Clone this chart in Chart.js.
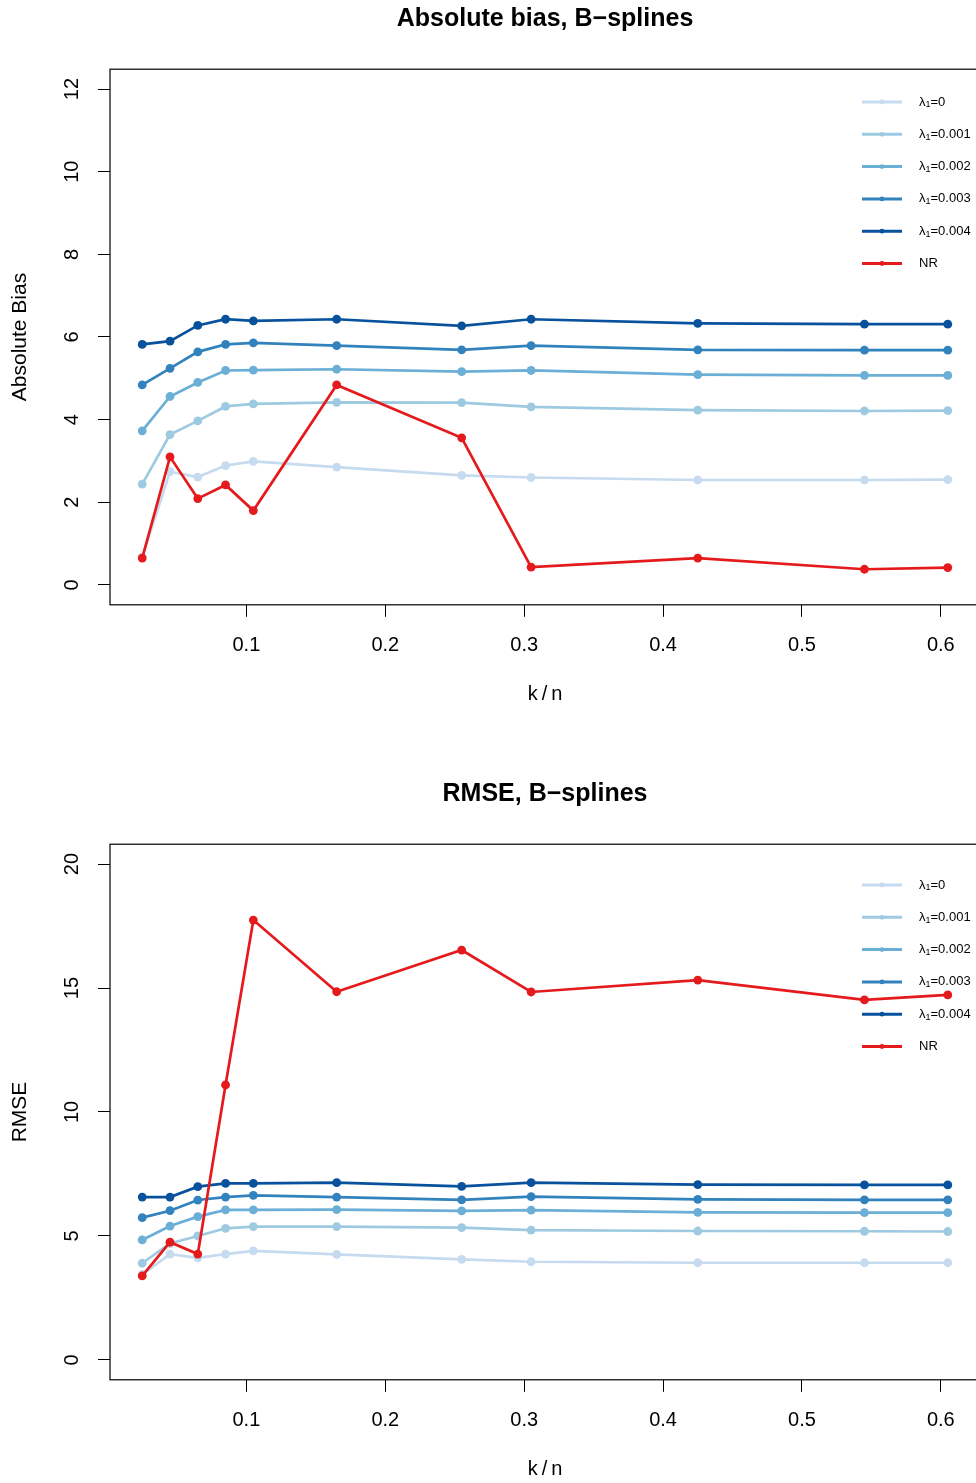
<!DOCTYPE html>
<html>
<head>
<meta charset="utf-8">
<script src="https://cdn.jsdelivr.net/npm/chart.js@4.4.1/dist/chart.umd.min.js"></script>
<style>
  html, body { margin: 0; padding: 0; background: #fff; overflow: hidden; width: 976px; height: 1483px; }
  .panel { width: 980px; height: 775px; }
  canvas { display: block; }
</style>
</head>
<body>
<div class="panel"><canvas id="biasChart" width="980" height="775"></canvas></div>
<div class="panel"><canvas id="rmseChart" width="980" height="775"></canvas></div>
<script>
// k/n values on the x axis
var kn = [0.025, 0.045, 0.065, 0.085, 0.105, 0.165, 0.255, 0.305, 0.425, 0.545, 0.605];
var xTicks = [0.1, 0.2, 0.3, 0.4, 0.5, 0.6];

// absolute bias
var biasLam0   = [0.68, 2.74, 2.61, 2.89, 2.99, 2.85, 2.65, 2.60, 2.54, 2.54, 2.55];
var biasLam001 = [2.44, 3.64, 3.97, 4.32, 4.38, 4.42, 4.41, 4.31, 4.23, 4.21, 4.22];
var biasLam002 = [3.73, 4.56, 4.90, 5.19, 5.20, 5.22, 5.16, 5.19, 5.09, 5.07, 5.07];
var biasLam003 = [4.84, 5.24, 5.64, 5.82, 5.86, 5.79, 5.69, 5.79, 5.69, 5.68, 5.68];
var biasLam004 = [5.82, 5.90, 6.28, 6.43, 6.39, 6.43, 6.27, 6.43, 6.33, 6.31, 6.31];
var biasNR     = [0.65, 3.10, 2.09, 2.42, 1.80, 4.84, 3.56, 0.43, 0.65, 0.38, 0.42];
var biasTicks  = [0, 2, 4, 6, 8, 10, 12];

// RMSE
var rmseLam0   = [3.45, 4.27, 4.12, 4.27, 4.40, 4.26, 4.06, 3.96, 3.92, 3.92, 3.92];
var rmseLam001 = [3.90, 4.70, 5.00, 5.31, 5.38, 5.38, 5.34, 5.24, 5.20, 5.19, 5.18];
var rmseLam002 = [4.84, 5.40, 5.78, 6.05, 6.05, 6.06, 6.01, 6.04, 5.95, 5.94, 5.94];
var rmseLam003 = [5.74, 6.02, 6.45, 6.57, 6.64, 6.57, 6.46, 6.59, 6.48, 6.46, 6.46];
var rmseLam004 = [6.57, 6.57, 6.99, 7.12, 7.12, 7.15, 7.00, 7.15, 7.07, 7.06, 7.06];
var rmseNR     = [3.39, 4.75, 4.27, 11.09, 17.74, 14.85, 16.53, 14.84, 15.32, 14.52, 14.72];
var rmseTicks  = [0, 5, 10, 15, 20];

var seriesNames = ['0', '0.001', '0.002', '0.003', '0.004', 'NR'];
var seriesColors = ['#C6DBEF', '#9ECAE1', '#6BAED6', '#3182BD', '#08519C', '#E41A1C'];

Chart.defaults.font.family = "'Liberation Sans', Arial, Helvetica, sans-serif";
Chart.defaults.color = '#000';

// box around the plot region, like R's box()
var boxPlugin = {
  id: 'rBox',
  afterDraw: function(chart) {
    var a = chart.chartArea, ctx = chart.ctx;
    ctx.save();
    ctx.strokeStyle = '#000';
    ctx.lineWidth = 1.2;
    ctx.strokeRect(a.left, a.top, a.right - a.left, a.bottom - a.top);
    ctx.restore();
  }
};

// legend without frame in the top right corner
var legendPlugin = {
  id: 'rLegend',
  afterDatasetsDraw: function(chart, args, opts) {
    var ctx = chart.ctx;
    var y0 = opts.top, step = 32.3;
    var fam = "'Liberation Sans', Arial, sans-serif";
    ctx.save();
    ctx.textBaseline = 'middle';
    ctx.textAlign = 'left';
    for (var i = 0; i < seriesNames.length; i++) {
      var y = y0 + i * step;
      ctx.strokeStyle = seriesColors[i];
      ctx.fillStyle = seriesColors[i];
      ctx.lineWidth = 3;
      ctx.beginPath();
      ctx.moveTo(862, y);
      ctx.lineTo(902, y);
      ctx.stroke();
      ctx.beginPath();
      ctx.arc(882, y, 2.4, 0, Math.PI * 2);
      ctx.fill();
      ctx.fillStyle = '#000';
      var x = 919;
      ctx.font = '13px ' + fam;
      if (seriesNames[i] === 'NR') {
        ctx.fillText('NR', x, y);
      } else {
        ctx.fillText('\u03bb', x, y);
        x += ctx.measureText('\u03bb').width;
        ctx.font = '9px ' + fam;
        ctx.fillText('1', x, y + 3);
        x += ctx.measureText('1').width;
        ctx.font = '13px ' + fam;
        ctx.fillText('=' + seriesNames[i], x, y);
      }
    }
    ctx.restore();
  }
};

function makeChart(id, title, yTitle, yMin, yMax, yTicks, series, legendTop) {
  var datasets = series.map(function(vals, i) {
    return {
      label: seriesNames[i],
      data: kn.map(function(k, j) { return { x: k, y: vals[j] }; }),
      borderColor: seriesColors[i],
      backgroundColor: seriesColors[i],
      pointBackgroundColor: seriesColors[i],
      pointBorderWidth: 0,
      pointRadius: 4.4,
      borderWidth: 2.7,
      tension: 0,
      order: series.length - i
    };
  });
  return new Chart(document.getElementById(id).getContext('2d'), {
    type: 'line',
    data: { datasets: datasets },
    plugins: [boxPlugin, legendPlugin],
    options: {
      responsive: false,
      animation: false,
      events: [],
      layout: { padding: 0, autoPadding: false },
      plugins: {
        legend: { display: false },
        tooltip: { enabled: false },
        rLegend: { top: legendTop },
        title: {
          display: true,
          text: title,
          fullSize: false,
          color: '#000',
          font: { size: 25, weight: 'bold' },
          padding: { top: 4.4, bottom: 34.8 }
        }
      },
      scales: {
        x: {
          type: 'linear',
          min: 0.0018,
          max: 0.6282,
          afterBuildTicks: function(s) { s.ticks = xTicks.map(function(v) { return { value: v }; }); },
          afterFit: function(s) { s.height = 170.2; s.paddingLeft = 0; s.paddingRight = 0; },
          grid: { drawOnChartArea: false, drawTicks: true, tickLength: 12, color: '#000', lineWidth: 1 },
          border: { display: false },
          ticks: {
            font: { size: 20 }, color: '#000', padding: 17, maxRotation: 0, autoSkip: false,
            callback: function(v) { return v.toFixed(1); }
          },
          title: { display: true, text: 'k\u2009/\u2009n', color: '#000', font: { size: 20 }, padding: { top: 0, bottom: 69 } }
        },
        y: {
          type: 'linear',
          min: yMin,
          max: yMax,
          afterBuildTicks: function(s) { s.ticks = yTicks.map(function(v) { return { value: v }; }); },
          afterFit: function(s) { s.width = 110; s.paddingTop = 0; s.paddingBottom = 0; },
          grid: { drawOnChartArea: false, drawTicks: true, tickLength: 12, color: '#000', lineWidth: 1 },
          border: { display: false },
          ticks: {
            font: { size: 20 }, color: '#000', padding: 14, minRotation: 90, maxRotation: 90,
            crossAlign: 'center', autoSkip: false,
            callback: function(v) { return String(v); }
          },
          title: { display: true, text: yTitle, color: '#000', font: { size: 21 }, padding: { top: 8, bottom: 0 } }
        }
      }
    }
  });
}

var biasChart = makeChart('biasChart', 'Absolute bias, B\u2212splines', 'Absolute Bias', -0.48, 12.48, biasTicks,
  [biasLam0, biasLam001, biasLam002, biasLam003, biasLam004, biasNR], 102);
var rmseChart = makeChart('rmseChart', 'RMSE, B\u2212splines', 'RMSE', -0.8, 20.8, rmseTicks,
  [rmseLam0, rmseLam001, rmseLam002, rmseLam003, rmseLam004, rmseNR], 110);
</script>
</body>
</html>
